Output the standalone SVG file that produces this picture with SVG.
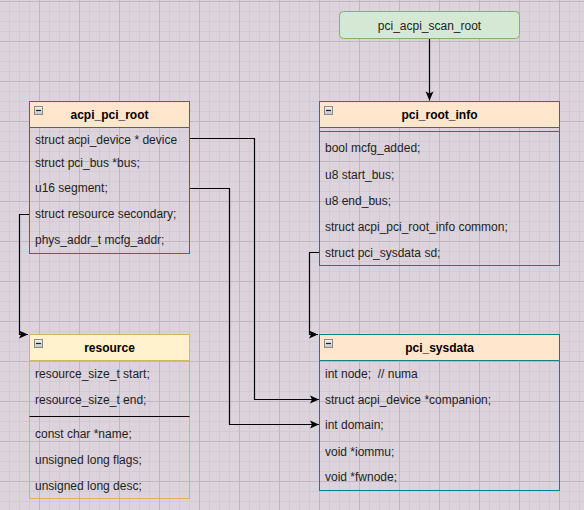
<svg xmlns="http://www.w3.org/2000/svg" width="584" height="510" viewBox="0 0 584 510">
<style>
.t{font-family:"Liberation Sans",Arial,sans-serif;font-size:12px;fill:#1e1e1e}
.h{font-family:"Liberation Sans",Arial,sans-serif;font-size:12px;font-weight:bold;fill:#000;text-anchor:middle}
.box{fill:none;stroke:#0e8088;stroke-width:1}
.hdr{fill:#ffe6cc;stroke:#0e8088;stroke-width:1}
.ybox{fill:none;stroke:#d6b656;stroke-width:1}
.yhdr{fill:#fff2cc;stroke:#d6b656;stroke-width:1}
.edge{fill:none;stroke:#000;stroke-width:1.2;marker-end:url(#arr)}
.ic{fill:url(#icg);stroke:#8a8a8a;stroke-width:1}
.icm{stroke:#222;stroke-width:1.2}
</style>
<defs>
<pattern id="grid" x="-1" y="1" width="40" height="40" patternUnits="userSpaceOnUse">
<rect x="0" y="0" width="40" height="40" fill="#dcd3dc"/>
<rect x="10" y="0" width="1" height="40" fill="#d3cad4"/>
<rect x="20" y="0" width="1" height="40" fill="#d3cad4"/>
<rect x="30" y="0" width="1" height="40" fill="#d3cad4"/>
<rect x="0" y="10" width="40" height="1" fill="#d3cad4"/>
<rect x="0" y="20" width="40" height="1" fill="#d3cad4"/>
<rect x="0" y="30" width="40" height="1" fill="#d3cad4"/>
<rect x="0" y="0" width="1" height="40" fill="#c0b6c1"/>
<rect x="0" y="0" width="40" height="1" fill="#c0b6c1"/>
</pattern>
<linearGradient id="icg" x1="0" y1="0" x2="0" y2="1">
<stop offset="0" stop-color="#f4f4f4"/>
<stop offset="1" stop-color="#c4c4c4"/>
</linearGradient>
<marker id="arr" markerWidth="12" markerHeight="10" refX="0" refY="0" viewBox="-10 -5 12 10" orient="auto" markerUnits="userSpaceOnUse">
<path d="M0,0 L-9,-4 L-7,0 L-9,4 Z" fill="#000"/>
</marker>
</defs>
<rect width="584" height="510" fill="url(#grid)"/>

<g id="connectors">
<path class="edge" d="M189,138.5 H254.5 V399.5 H319"/>
<path class="edge" d="M189,188.5 H229.5 V424.5 H319"/>
<path class="edge" d="M29,214.5 H19.5 V334.5 H28"/>
<path class="edge" d="M319,252.5 H309.5 V334.5 H318"/>
<path class="edge" d="M429.5,38.5 V100.5"/>
</g>

<g id="pci_acpi_scan_root">
<rect x="339.5" y="11.5" width="180" height="27" rx="4" fill="#d5e8d4" stroke="#82b366"/>
<text class="t" x="429.5" y="30" text-anchor="middle">pci_acpi_scan_root</text>
</g>

<g id="acpi_pci_root">
<rect class="hdr" x="29.5" y="101.5" width="160" height="26"/>
<rect class="box" x="29.5" y="101.5" width="160" height="152"/>
<rect class="ic" x="34.5" y="106.5" width="8" height="8"/>
<line class="icm" x1="36" y1="110.5" x2="41" y2="110.5"/>
<text class="h" x="109.5" y="119">acpi_pci_root</text>
<text class="t" x="35" y="144">struct acpi_device * device</text>
<text class="t" x="35" y="166.5">struct pci_bus *bus;</text>
<text class="t" x="35" y="192">u16 segment;</text>
<text class="t" x="35" y="218">struct resource secondary;</text>
<text class="t" x="35" y="244">phys_addr_t mcfg_addr;</text>
</g>

<g id="pci_root_info">
<rect class="hdr" x="319.5" y="101.5" width="240" height="26"/>
<rect class="box" x="319.5" y="101.5" width="240" height="164"/>
<line x1="319.5" y1="131.5" x2="559.5" y2="131.5" stroke="#0e8088"/>
<rect class="ic" x="324.5" y="106.5" width="8" height="8"/>
<line class="icm" x1="326" y1="110.5" x2="331" y2="110.5"/>
<text class="h" x="439.5" y="119">pci_root_info</text>
<text class="t" x="325" y="152">bool mcfg_added;</text>
<text class="t" x="325" y="179">u8 start_bus;</text>
<text class="t" x="325" y="205">u8 end_bus;</text>
<text class="t" x="325" y="231">struct acpi_pci_root_info common;</text>
<text class="t" x="325" y="257">struct pci_sysdata sd;</text>
</g>

<g id="resource">
<rect class="yhdr" x="29.5" y="334.5" width="160" height="26"/>
<rect class="ybox" x="29.5" y="334.5" width="160" height="164"/>
<line x1="29.5" y1="416.5" x2="189.5" y2="416.5" stroke="#000"/>
<rect class="ic" x="34.5" y="339.5" width="8" height="8"/>
<line class="icm" x1="36" y1="343.5" x2="41" y2="343.5"/>
<text class="h" x="109.5" y="352">resource</text>
<text class="t" x="35" y="378">resource_size_t start;</text>
<text class="t" x="35" y="404">resource_size_t end;</text>
<text class="t" x="35" y="438">const char *name;</text>
<text class="t" x="35" y="464">unsigned long flags;</text>
<text class="t" x="35" y="490">unsigned long desc;</text>
</g>

<g id="pci_sysdata">
<rect class="hdr" x="319.5" y="334.5" width="240" height="26"/>
<rect class="box" x="319.5" y="334.5" width="240" height="156"/>
<rect class="ic" x="324.5" y="339.5" width="8" height="8"/>
<line class="icm" x1="326" y1="343.5" x2="331" y2="343.5"/>
<text class="h" x="439.5" y="352">pci_sysdata</text>
<text class="t" x="325" y="378" xml:space="preserve">int node;  // numa</text>
<text class="t" x="325" y="404">struct acpi_device *companion;</text>
<text class="t" x="325" y="429">int domain;</text>
<text class="t" x="325" y="456">void *iommu;</text>
<text class="t" x="325" y="481">void *fwnode;</text>
</g>
</svg>
